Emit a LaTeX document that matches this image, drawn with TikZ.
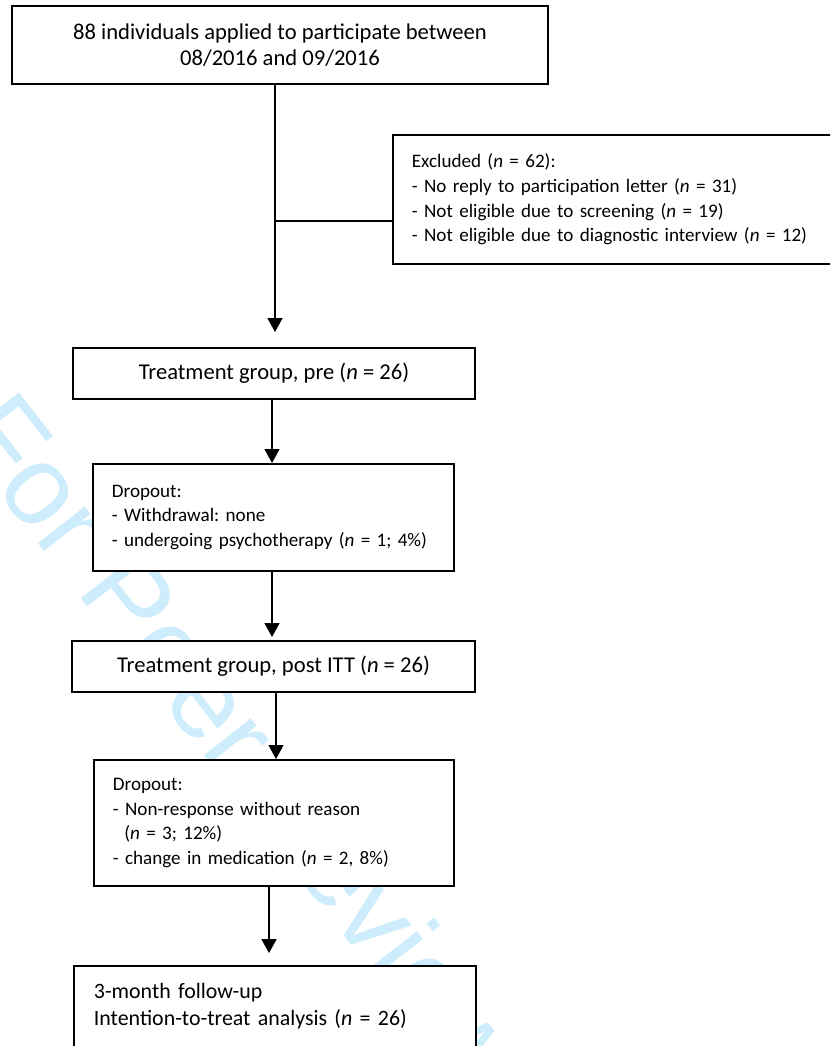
\documentclass[tikz,border=0pt]{standalone}
\usepackage{fontspec}
\setmainfont{Carlito}
\newfontfamily\wmfont{Liberation Sans}
\usetikzlibrary{arrows.meta}
\definecolor{wmblue}{RGB}{205,236,252}
\frenchspacing

\begin{document}
\begin{tikzpicture}[x=1pt,y=-1pt,
  box/.style={draw,line width=1.8pt,fill=white,inner sep=0pt,font=\fontsize{22.6}{26}\selectfont},
  leftbox/.style={box,anchor=north west,align=left,inner xsep=19pt,font=\fontsize{19.1}{24.7}\selectfont},
  arrow/.style={line width=1.8pt,-{Triangle[width=15pt,length=14pt]}}]
\useasboundingbox (0,0) rectangle (830,1046);
\clip (0,0) rectangle (830,1046);
\fill[white] (0,0) rectangle (830,1046);
% watermark
\node[rotate=-52,anchor=base west,inner sep=0pt,text=wmblue,
  font=\wmfont\fontsize{113}{113}\selectfont] (wm) at (-48,433) {For Peer Review};
% boxes
\node[box,minimum width=536,minimum height=78,align=center] (start) at (280,45)
  {88 individuals applied to participate between\\08/2016 and 09/2016};
\node[leftbox,text width=440,minimum height=129] (excl) at (392,134)
  {Excluded (\textit{n} = 62):\\
   - No reply to participation letter (\textit{n} = 31)\\
   - Not eligible due to screening (\textit{n} = 19)\\
   - Not eligible due to diagnostic interview (\textit{n} = 12)};
\node[box,minimum width=402,minimum height=51] (pre) at (274,373.5)
  {Treatment group, pre (\textit{n} = 26)};
\node[leftbox,text width=323,minimum height=107] (drop1) at (92,463)
  {Dropout:\\
   - Withdrawal: none\\
   - undergoing psychotherapy (\textit{n} = 1; 4\%)};
\node[box,minimum width=403,minimum height=51] (post) at (273.5,666.5)
  {Treatment group, post ITT (\textit{n} = 26)};
\node[leftbox,text width=322,minimum height=126] (drop2) at (93,759)
  {Dropout:\\
   - Non-response without reason\\
   \hspace*{0.6em}(\textit{n} = 3; 12\%)\\
   - change in medication (\textit{n} = 2, 8\%)};
\node[leftbox,text width=362,inner xsep=20pt,minimum height=104,font=\fontsize{21.9}{27.3}\selectfont] (fu) at (73,965)
  {3-month follow-up\\
   Intention-to-treat analysis (\textit{n} = 26)\\
   \mbox{}};
% connectors
\coordinate (fork) at (275,221);
\coordinate (tip1) at (275,332);
\coordinate (tip3) at (272,637);
\coordinate (tip5) at (269,953);
\draw[arrow,line width=1.5pt] (start.south -| tip1) -- (tip1);
\draw[line width=1.5pt] (fork) -- (fork -| excl.west);
\draw[arrow] (pre.south -| tip3) -- (tip3 |- drop1.north);
\draw[arrow] (drop1.south -| tip3) -- (tip3);
\draw[arrow,line width=1.3pt] ([xshift=2.5pt]post.south) -- ([xshift=2.5pt]post.south |- drop2.north);
\draw[arrow] (drop2.south -| tip5) -- (tip5);
\end{tikzpicture}
\end{document}
